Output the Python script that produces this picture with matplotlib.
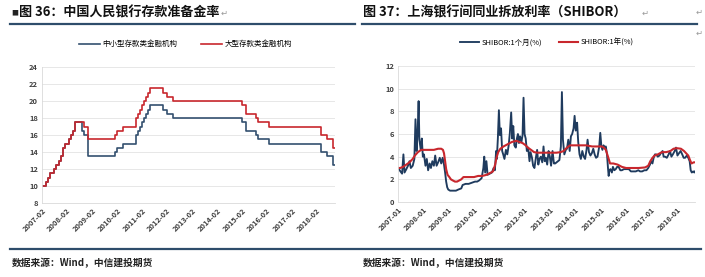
import matplotlib
matplotlib.use("Agg")
import matplotlib.pyplot as plt
from matplotlib.lines import Line2D
import pandas as pd

plt.rcParams['font.family'] = ['Noto Sans CJK SC', 'DejaVu Sans']

# ---------------- Data: reserve requirement ratio (change points, %) ----------------
rrr_dates = ["2007-02-01", "2007-04-01", "2007-05-01", "2007-06-01", "2007-08-01", "2007-09-01",
             "2007-10-01", "2007-11-01", "2007-12-01", "2008-01-01", "2008-03-01", "2008-04-01",
             "2008-05-01", "2008-06-01", "2008-09-01", "2008-10-01", "2008-11-01", "2008-12-01",
             "2010-01-01", "2010-02-01", "2010-05-01", "2010-11-01", "2010-12-01", "2011-01-01",
             "2011-02-01", "2011-03-01", "2011-04-01", "2011-05-01", "2011-06-01", "2011-12-01",
             "2012-02-01", "2012-05-01", "2015-02-01", "2015-04-01", "2015-09-01", "2015-10-01",
             "2016-03-01", "2018-04-01", "2018-07-01", "2018-10-01", "2018-10-25"]
rrr_small = [10.0, 10.5, 11.0, 11.5, 12.0, 12.5, 13.0, 13.5, 14.5, 15.0, 15.5, 16.0,
             16.5, 17.5, 16.5, 16.0, 16.0, 13.5, 14.0, 14.5, 15.0, 16.0, 16.5, 17.0,
             17.5, 18.0, 18.5, 19.0, 19.5, 19.0, 18.5, 18.0, 17.5, 16.5, 16.0, 15.5,
             15.0, 14.0, 13.5, 12.5, 12.5]
rrr_large = [10.0, 10.5, 11.0, 11.5, 12.0, 12.5, 13.0, 13.5, 14.5, 15.0, 15.5, 16.0,
             16.5, 17.5, 17.5, 17.0, 17.0, 15.5, 16.0, 16.5, 17.0, 18.0, 18.5, 19.0,
             19.5, 20.0, 20.5, 21.0, 21.5, 21.0, 20.5, 20.0, 19.5, 18.5, 18.0, 17.5,
             17.0, 16.0, 15.5, 14.5, 14.5]
rrr_ticks = ["2007-02", "2008-02", "2009-02", "2010-02", "2011-02", "2012-02", "2013-02",
             "2014-02", "2015-02", "2016-02", "2017-02", "2018-02"]
rrr_names = ["中小型存款类金融机构", "大型存款类金融机构"]

# ---------------- Data: SHIBOR 1M (%) ----------------
m1_dates = ["2007-01-05", "2007-02-05", "2007-03-01", "2007-03-20", "2007-04-05", "2007-05-01",
            "2007-05-25", "2007-06-15", "2007-07-05", "2007-08-01", "2007-08-25", "2007-09-10",
            "2007-09-25", "2007-10-10", "2007-10-25", "2007-11-05", "2007-11-25", "2007-12-10",
            "2007-12-25", "2008-01-10", "2008-02-01", "2008-02-20", "2008-03-10", "2008-04-01",
            "2008-04-20", "2008-05-10", "2008-06-01", "2008-06-20", "2008-07-10", "2008-08-01",
            "2008-08-25", "2008-09-15", "2008-10-05", "2008-10-25", "2008-11-10", "2008-11-25",
            "2008-12-10", "2008-12-25", "2009-01-20", "2009-03-01", "2009-04-15", "2009-05-20",
            "2009-07-01", "2009-07-20", "2009-09-01", "2009-10-15", "2009-12-01", "2010-01-15",
            "2010-02-15", "2010-03-15", "2010-04-20", "2010-05-15", "2010-05-28", "2010-06-10",
            "2010-06-28", "2010-07-15", "2010-08-15", "2010-09-15", "2010-10-10", "2010-10-28",
            "2010-11-15", "2010-11-25", "2010-12-10", "2010-12-25", "2011-01-08", "2011-01-25",
            "2011-02-10", "2011-02-25", "2011-03-15", "2011-04-05", "2011-04-25", "2011-05-15",
            "2011-06-01", "2011-06-20", "2011-07-05", "2011-07-20", "2011-08-05", "2011-08-25",
            "2011-09-10", "2011-09-25", "2011-10-10", "2011-10-25", "2011-11-15", "2011-12-01",
            "2011-12-15", "2011-12-30", "2012-01-15", "2012-02-01", "2012-02-20", "2012-03-10",
            "2012-03-25", "2012-04-15", "2012-05-01", "2012-05-20", "2012-06-10", "2012-06-28",
            "2012-07-15", "2012-08-01", "2012-08-20", "2012-09-10", "2012-09-28", "2012-10-15",
            "2012-11-01", "2012-11-20", "2012-12-10", "2012-12-28", "2013-01-15", "2013-02-05",
            "2013-02-25", "2013-03-15", "2013-04-05", "2013-04-25", "2013-05-15", "2013-06-05",
            "2013-06-20", "2013-07-05", "2013-07-25", "2013-08-15", "2013-09-01", "2013-09-20",
            "2013-10-10", "2013-10-28", "2013-11-15", "2013-12-05", "2013-12-20", "2014-01-05",
            "2014-01-25", "2014-02-10", "2014-03-01", "2014-03-20", "2014-04-10", "2014-05-01",
            "2014-05-20", "2014-06-10", "2014-06-25", "2014-07-15", "2014-08-05", "2014-08-25",
            "2014-09-15", "2014-10-05", "2014-10-25", "2014-11-15", "2014-12-10", "2014-12-25",
            "2015-01-10", "2015-01-25", "2015-02-10", "2015-02-25", "2015-03-15", "2015-04-01",
            "2015-04-15", "2015-04-25", "2015-05-05", "2015-05-20", "2015-06-10", "2015-06-25",
            "2015-07-15", "2015-08-05", "2015-08-25", "2015-09-15", "2015-10-10", "2015-11-01",
            "2015-12-01", "2016-01-10", "2016-02-10", "2016-03-10", "2016-04-15", "2016-05-20",
            "2016-06-25", "2016-07-20", "2016-08-20", "2016-09-20", "2016-10-20", "2016-11-15",
            "2016-12-10", "2016-12-25", "2017-01-15", "2017-02-01", "2017-02-20", "2017-03-10",
            "2017-04-01", "2017-04-25", "2017-05-15", "2017-06-10", "2017-06-25", "2017-07-15",
            "2017-08-10", "2017-09-05", "2017-09-25", "2017-10-15", "2017-11-05", "2017-12-01",
            "2017-12-20", "2018-01-10", "2018-02-01", "2018-02-25", "2018-03-20", "2018-04-10",
            "2018-05-01", "2018-05-25", "2018-06-15", "2018-07-05", "2018-07-20", "2018-08-05",
            "2018-08-25", "2018-09-10", "2018-09-20"]
m1_vals = [3.0, 2.7, 2.5, 4.2, 2.6, 2.9,
           3.2, 3.6, 3.0, 3.2, 3.8, 7.3,
           4.5, 6.0, 8.9, 5.5, 4.6, 5.6,
           4.0, 4.2, 3.2, 3.8, 2.8, 3.4,
           3.0, 3.6, 3.2, 4.1, 3.2, 3.5,
           3.9, 3.4, 3.9, 3.3, 2.6, 1.8,
           1.3, 1.1, 1.0, 1.0, 1.0, 1.1,
           1.2, 1.5, 1.6, 1.6, 1.7, 1.8,
           1.8, 1.9, 2.1, 3.0, 4.0, 2.6,
           3.6, 2.4, 2.5, 2.6, 3.0, 2.8,
           4.5, 3.8, 5.6, 8.1, 5.9, 6.5,
           4.5, 4.2, 3.8, 4.6, 4.2, 5.0,
           6.1, 7.9, 5.6, 6.7, 5.0, 4.8,
           5.6, 6.0, 5.2, 5.8, 5.3, 5.9,
           9.2, 6.0, 5.6, 4.5, 4.8, 3.6,
           4.4, 3.9, 3.2, 3.0, 3.9, 4.6,
           3.3, 3.8, 4.0, 3.5, 4.9, 3.6,
           3.9, 3.3, 4.5, 4.0, 3.2, 4.5,
           3.4, 3.4, 3.5, 3.6, 3.7, 4.9,
           9.7, 5.5, 4.2, 4.6, 4.7, 5.5,
           4.5, 5.8, 6.0, 6.5, 7.6, 6.3,
           7.0, 5.3, 4.2, 3.8, 4.5, 4.0,
           3.8, 4.6, 5.5, 4.4, 4.1, 4.3,
           4.7, 4.2, 3.9, 4.0, 4.9, 6.1,
           4.9, 4.6, 5.0, 4.8, 4.9, 4.2,
           3.0, 2.3, 2.8, 2.9, 2.6, 3.1,
           2.8, 2.9, 3.1, 3.1, 2.8, 2.8,
           2.9, 2.9, 2.9, 2.7, 2.7, 2.7,
           2.8, 2.7, 2.7, 2.8, 2.8, 3.0,
           3.3, 3.6, 3.4, 3.9, 4.2, 4.2,
           4.0, 4.1, 4.3, 4.5, 4.0, 4.0,
           3.9, 4.2, 4.5, 4.0, 4.2, 4.5,
           4.8, 4.1, 4.3, 4.5, 4.2, 3.9,
           3.9, 4.1, 3.9, 3.6, 2.8, 2.6,
           2.7, 2.6, 2.7]

# ---------------- Data: SHIBOR 1Y (%) ----------------
y1_dates = ["2007-01-05", "2007-02-01", "2007-03-15", "2007-05-01", "2007-06-15", "2007-08-01",
            "2007-09-01", "2007-10-15", "2007-12-01", "2008-01-15", "2008-04-01", "2008-06-01",
            "2008-08-01", "2008-09-15", "2008-10-10", "2008-10-25", "2008-11-10", "2008-11-25",
            "2008-12-15", "2009-01-10", "2009-02-01", "2009-03-01", "2009-04-01", "2009-05-01",
            "2009-06-01", "2009-07-01", "2009-08-01", "2009-09-01", "2009-11-01", "2010-01-01",
            "2010-03-01", "2010-05-01", "2010-07-01", "2010-09-01", "2010-10-01", "2010-11-01",
            "2010-11-20", "2010-12-15", "2011-01-15", "2011-03-01", "2011-05-01", "2011-07-01",
            "2011-09-01", "2011-10-15", "2011-12-01", "2012-01-15", "2012-02-15", "2012-04-01",
            "2012-05-15", "2012-07-01", "2012-10-01", "2013-01-01", "2013-04-01", "2013-06-01",
            "2013-07-15", "2013-09-01", "2013-10-15", "2013-12-15", "2014-03-01", "2014-06-01",
            "2014-09-01", "2014-11-15", "2015-01-15", "2015-02-15", "2015-03-15", "2015-04-15",
            "2015-05-15", "2015-07-01", "2015-09-01", "2015-11-01", "2016-01-01", "2016-04-01",
            "2016-07-01", "2016-10-01", "2016-11-15", "2016-12-15", "2017-01-15", "2017-02-15",
            "2017-04-01", "2017-06-01", "2017-08-01", "2017-10-01", "2017-11-15", "2018-01-01",
            "2018-03-01", "2018-04-15", "2018-05-15", "2018-06-15", "2018-07-10", "2018-08-01",
            "2018-09-01", "2018-09-20"]
y1_vals = [3.0, 3.0, 3.1, 3.3, 3.5, 3.8,
           4.1, 4.4, 4.6, 4.6, 4.6, 4.6,
           4.7, 4.7, 4.6, 4.3, 3.6, 2.9,
           2.4, 2.2, 2.0, 1.9, 1.8, 1.8,
           1.9, 2.0, 2.2, 2.2, 2.2, 2.2,
           2.3, 2.3, 2.4, 2.6, 2.7, 3.3,
           3.9, 4.4, 4.7, 4.9, 5.1, 5.3,
           5.4, 5.3, 5.2, 5.0, 4.8, 4.6,
           4.4, 4.35, 4.35, 4.35, 4.35, 4.4,
           4.5, 4.8, 5.0, 5.0, 5.0, 5.0,
           4.9, 4.9, 4.9, 4.8, 4.6, 4.0,
           3.4, 3.4, 3.3, 3.1, 3.0, 3.0,
           3.0, 3.05, 3.2, 3.6, 3.9, 4.1,
           4.2, 4.4, 4.4, 4.5, 4.7, 4.75,
           4.7, 4.5, 4.3, 4.1, 3.7, 3.4,
           3.5, 3.5]
shibor_ticks = ["2007-01", "2008-01", "2009-01", "2010-01", "2011-01", "2012-01", "2013-01",
                "2014-01", "2015-01", "2016-01", "2017-01", "2018-01"]
shibor_names = ["SHIBOR:1个月(%)", "SHIBOR:1年(%)"]

titles = ["图 36：中国人民银行存款准备金率", "图 37：上海银行间同业拆放利率（SHIBOR）"]
source = "数据来源：Wind，中信建投期货"

# ---------------- Figure ----------------
W, H = 705, 277
fig = plt.figure(figsize=(W / 100, H / 100), dpi=100)
fig.patch.set_facecolor("white")

def fx(px):
    return px / W

def fy(py):
    return 1 - py / H

BLUE = "#34506F"
NAVY = "#1F3B5E"
RED = "#C8272D"
RULE = "#2E4D6B"
GRID = "#E3E3E3"
TICK = "#404040"

# Titles
fig.text(fx(11), fy(13), "■", fontsize=5, color="#222222", va="center", ha="left")
fig.text(fx(19), fy(13), titles[0], fontsize=9.4, fontweight="bold", color="#111111",
         va="center", ha="left")
fig.text(fx(221), fy(13), "↵", fontsize=6, color="#999999", va="center", ha="left",
         family=["DejaVu Sans"])
fig.text(fx(363), fy(13), titles[1], fontsize=9.4, fontweight="bold", color="#111111",
         va="center", ha="left")
fig.text(fx(642), fy(13), "↵", fontsize=6, color="#999999", va="center", ha="left",
         family=["DejaVu Sans"])
fig.text(fx(696), fy(12), "↵", fontsize=6, color="#999999", va="center", ha="left",
         family=["DejaVu Sans"])
fig.text(fx(696), fy(33), "↵", fontsize=6, color="#999999", va="center", ha="left",
         family=["DejaVu Sans"])

# Rules
fig.add_artist(Line2D([fx(10), fx(355)], [fy(24), fy(24)], color=RULE, lw=1.6))
fig.add_artist(Line2D([fx(362), fx(697)], [fy(24), fy(24)], color=RULE, lw=1.6))
fig.add_artist(Line2D([fx(10), fx(701)], [fy(249), fy(249)], color=RULE, lw=1.6))

# Sources
fig.text(fx(12), fy(263), source, fontsize=7, fontweight="bold", color="#222222",
         va="center", ha="left", style="italic")
fig.text(fx(363), fy(263), source, fontsize=7, fontweight="bold", color="#222222",
         va="center", ha="left", style="italic")


def style_axes(ax):
    for s in ["top", "right"]:
        ax.spines[s].set_visible(False)
    ax.spines["left"].set_color("#D9D9D9")
    ax.spines["bottom"].set_color("#D9D9D9")
    ax.spines["left"].set_linewidth(0.6)
    ax.spines["bottom"].set_linewidth(0.6)
    ax.grid(axis="y", color=GRID, lw=0.6)
    ax.set_axisbelow(True)
    ax.tick_params(axis="both", length=0, labelsize=5.4, colors=TICK, pad=3)
    for lab in ax.get_yticklabels():
        lab.set_fontweight("bold")


# Left chart
axL = fig.add_axes([fx(42), fy(203), fx(335) - fx(42), fy(67) - fy(203)])
dL = pd.to_datetime(rrr_dates)
axL.plot(dL, rrr_small, drawstyle="steps-post", color=BLUE, lw=1.2, label=rrr_names[0])
axL.plot(dL, rrr_large, drawstyle="steps-post", color=RED, lw=1.2, label=rrr_names[1])
axL.set_ylim(8, 24)
axL.set_yticks(range(8, 25, 2))
axL.set_xlim(pd.Timestamp("2007-02-01"), pd.Timestamp("2018-10-25"))
axL.set_xticks(pd.to_datetime(rrr_ticks))
axL.set_xticklabels(rrr_ticks, rotation=45, ha="right", rotation_mode="anchor",
                    fontweight="bold")
style_axes(axL)
axL.legend(loc="lower center", bbox_to_anchor=(0.49, 1.115), ncol=2, frameon=False,
           fontsize=5.4, handlelength=2.8, columnspacing=3.2, handletextpad=0.3,
           borderaxespad=0)

# Right chart
axR = fig.add_axes([fx(398), fy(202), fx(695) - fx(398), fy(66) - fy(202)])
axR.plot(pd.to_datetime(m1_dates), m1_vals, color=NAVY, lw=1.35, label=shibor_names[0])
axR.plot(pd.to_datetime(y1_dates), y1_vals, color=RED, lw=1.5, label=shibor_names[1])
axR.set_ylim(0, 12)
axR.set_yticks(range(0, 13, 2))
axR.set_xlim(pd.Timestamp("2007-01-01"), pd.Timestamp("2018-09-20"))
axR.set_xticks(pd.to_datetime(shibor_ticks))
axR.set_xticklabels(shibor_ticks, rotation=45, ha="right", rotation_mode="anchor",
                    fontweight="bold")
style_axes(axR)
axR.legend(loc="lower center", bbox_to_anchor=(0.5, 1.12), ncol=2, frameon=False,
           fontsize=5.4, handlelength=2.6, columnspacing=2.2, handletextpad=0.3,
           borderaxespad=0)

fig.savefig("out.png", dpi=100, facecolor="white")
